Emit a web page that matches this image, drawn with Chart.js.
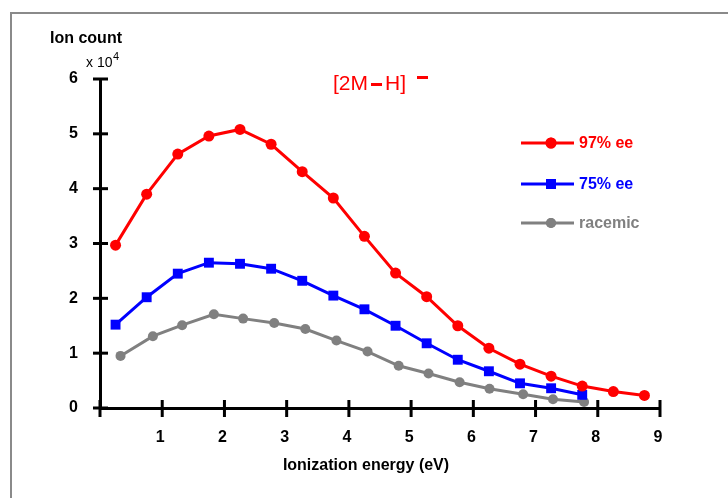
<!DOCTYPE html>
<html lang="en">
<head>
  <meta charset="UTF-8">
  <title>Ion count vs ionization energy</title>
  <script src="https://cdn.jsdelivr.net/npm/chart.js"></script>
  <style>
    body {
      margin: 0;
      background: #fff;
      font-family: 'Liberation Sans', Arial, sans-serif;
    }
    .frame {
      position: absolute;
      left: 10px;
      top: 12px;
      width: 740px;
      height: 500px;
      border-top: 2px solid #8a8a8a;
      border-left: 2px solid #8a8a8a;
    }
    .wrap {
      position: absolute;
      left: 0;
      top: 0;
      width: 728px;
      height: 498px;
    }
  </style>
</head>
<body>
  <div class="frame"></div>
  <div class="wrap"><canvas id="ionChart"></canvas></div>

  <script>
    // ionization energy (eV) and ion counts (x 10^4)
    const energy = [0.25, 0.75, 1.25, 1.75, 2.25, 2.75, 3.25, 3.75, 4.25, 4.75, 5.25, 5.75, 6.25, 6.75, 7.25, 7.75, 8.25, 8.75];
    const ee97 = [2.97, 3.90, 4.63, 4.96, 5.08, 4.81, 4.31, 3.83, 3.13, 2.46, 2.03, 1.50, 1.09, 0.80, 0.58, 0.40, 0.30, 0.23];
    const ee75 = [1.52, 2.02, 2.45, 2.65, 2.63, 2.54, 2.32, 2.05, 1.80, 1.50, 1.18, 0.88, 0.67, 0.45, 0.36, 0.24];
    const racemicEnergy = [0.33, 0.85, 1.32, 1.83, 2.30, 2.80, 3.30, 3.80, 4.30, 4.80, 5.28, 5.78, 6.26, 6.80, 7.28, 7.78];
    const racemic = [0.95, 1.31, 1.51, 1.71, 1.63, 1.55, 1.44, 1.23, 1.03, 0.77, 0.63, 0.47, 0.35, 0.25, 0.16, 0.11];
    const seriesNames = ['97% ee', '75% ee', 'racemic'];
    const xTicks = [0, 1, 2, 3, 4, 5, 6, 7, 8, 9];
    const yTicks = [0, 1, 2, 3, 4, 5, 6];

    const FONT = "'Liberation Sans', Arial, sans-serif";

    function pts(xs, ys) {
      return ys.map((y, i) => ({ x: xs[i], y: y }));
    }

    // ticks that cross the axis line
    const crossTicks = {
      id: 'crossTicks',
      afterDraw(chart) {
        const ctx = chart.ctx;
        const xs = chart.scales.x, ys = chart.scales.y;
        const area = chart.chartArea;
        ctx.save();
        ctx.strokeStyle = '#000';
        ctx.lineWidth = 3;
        xTicks.forEach(v => {
          const px = xs.getPixelForValue(v);
          ctx.beginPath();
          ctx.moveTo(px, area.bottom - 8);
          ctx.lineTo(px, area.bottom + 9);
          ctx.stroke();
        });
        yTicks.forEach(v => {
          const py = ys.getPixelForValue(v);
          ctx.beginPath();
          ctx.moveTo(area.left - 7, py);
          ctx.lineTo(area.left + 8, py);
          ctx.stroke();
        });
        ctx.restore();
      }
    };

    // axis captions, species label and legend
    const labels = {
      id: 'labels',
      afterDraw(chart) {
        const ctx = chart.ctx;
        ctx.save();
        ctx.textBaseline = 'middle';
        ctx.fillStyle = '#000';
        ctx.font = 'bold 16px ' + FONT;
        ctx.textAlign = 'left';
        ctx.fillText('Ion count', 50, 39);
        ctx.font = '14px ' + FONT;
        ctx.fillText('x 10', 86, 63);
        ctx.font = '11px ' + FONT;
        ctx.fillText('4', 113, 57);

        ctx.font = 'bold 16px ' + FONT;
        ctx.textAlign = 'center';
        ctx.fillText('Ionization energy (eV)', 366, 466);

        // [2M-H]- with thick dashes
        ctx.fillStyle = '#ff0000';
        ctx.textAlign = 'left';
        ctx.font = '21px ' + FONT;
        let tx = 333;
        ctx.fillText('[2M', tx, 84);
        tx += ctx.measureText('[2M').width + 3;
        ctx.fillRect(tx, 83, 11, 3);
        tx += 14;
        ctx.fillText('H]', tx, 84);
        ctx.fillRect(417, 76, 11, 3);

        const rows = [143, 184, 223];
        chart.data.datasets.forEach((ds, i) => {
          const y = rows[i];
          ctx.strokeStyle = ds.borderColor;
          ctx.fillStyle = ds.borderColor;
          ctx.lineWidth = 3;
          ctx.beginPath();
          ctx.moveTo(521, y);
          ctx.lineTo(574, y);
          ctx.stroke();
          Chart.helpers.drawPoint(ctx, {
            pointStyle: ds.pointStyle,
            radius: ds.pointRadius,
            borderWidth: 0
          }, 551, y);
          ctx.fill();
          ctx.font = 'bold 16px ' + FONT;
          ctx.fillText(ds.label, 579, y + 1);
        });
        ctx.restore();
      }
    };

    new Chart(document.getElementById('ionChart'), {
      type: 'line',
      data: {
        datasets: [{
          label: seriesNames[0],
          data: pts(energy, ee97),
          borderColor: '#ff0000',
          backgroundColor: '#ff0000',
          borderWidth: 3,
          pointStyle: 'circle',
          pointRadius: 5.5,
          pointBorderWidth: 0
        }, {
          label: seriesNames[1],
          data: pts(energy, ee75),
          borderColor: '#0000ff',
          backgroundColor: '#0000ff',
          borderWidth: 3,
          pointStyle: 'rect',
          pointRadius: 7,
          pointBorderWidth: 0
        }, {
          label: seriesNames[2],
          data: pts(racemicEnergy, racemic),
          borderColor: '#808080',
          backgroundColor: '#808080',
          borderWidth: 3,
          pointStyle: 'circle',
          pointRadius: 5,
          pointBorderWidth: 0
        }]
      },
      options: {
        responsive: true,
        maintainAspectRatio: false,
        animation: false,
        layout: { padding: { top: 79, right: 68, left: 0, bottom: 0 } },
        plugins: {
          legend: { display: false },
          tooltip: { enabled: false }
        },
        scales: {
          x: {
            type: 'linear',
            min: 0,
            max: 9,
            afterFit(scale) { scale.height = 90; },
            afterBuildTicks(scale) { scale.ticks = xTicks.map(v => ({ value: v })); },
            grid: { display: false, drawTicks: false },
            border: { display: true, color: '#000', width: 3 },
            ticks: {
              color: '#000',
              font: { family: FONT, size: 16, weight: 'bold' },
              padding: 20,
              labelOffset: -2,
              maxRotation: 0,
              callback: v => v === 0 ? '' : v
            }
          },
          y: {
            min: 0,
            max: 6,
            afterFit(scale) { scale.width = 100; },
            afterBuildTicks(scale) { scale.ticks = yTicks.map(v => ({ value: v })); },
            grid: { display: false, drawTicks: false },
            border: { display: true, color: '#000', width: 3 },
            ticks: {
              color: '#000',
              font: { family: FONT, size: 16, weight: 'bold' },
              padding: 22
            }
          }
        }
      },
      plugins: [crossTicks, labels]
    });
  </script>
</body>
</html>
